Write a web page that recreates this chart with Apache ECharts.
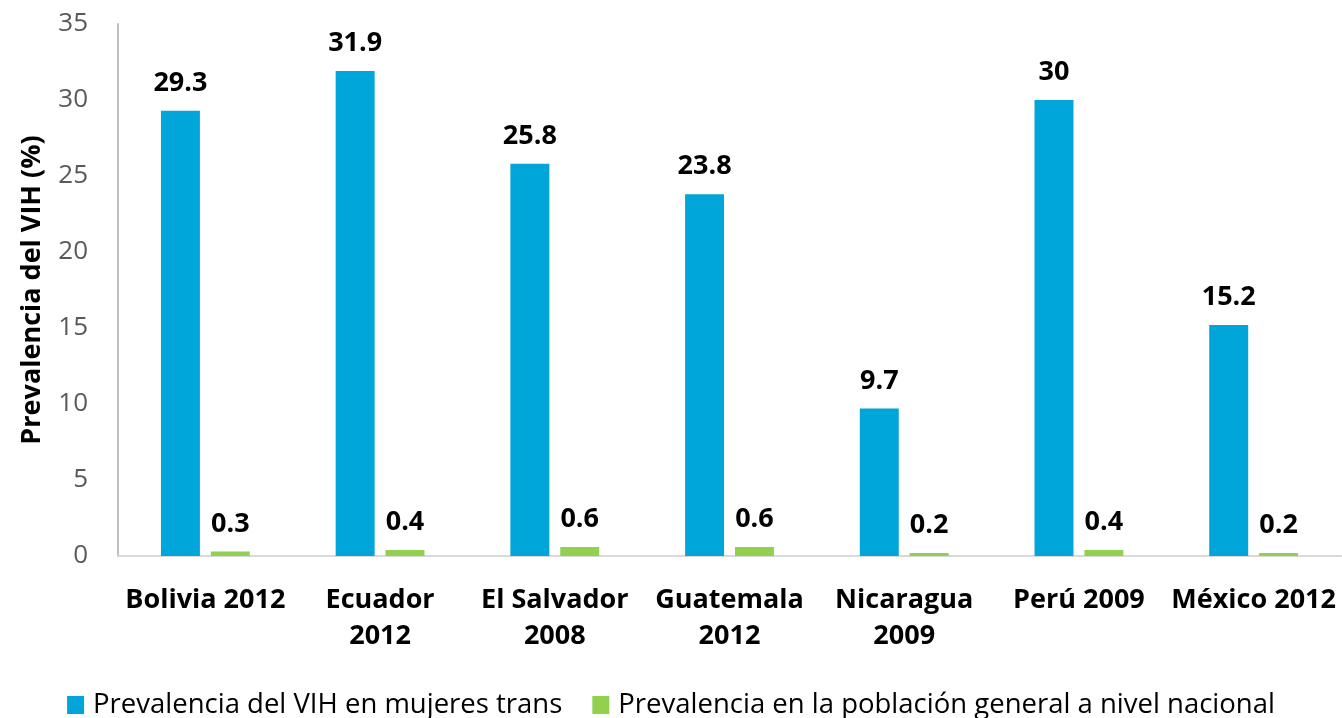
<!DOCTYPE html>
<html>
<head>
<meta charset="utf-8">
<script src="https://cdn.jsdelivr.net/npm/echarts@6/dist/echarts.min.js"></script>
<style>
	html, body { margin: 0; padding: 0; background: #fff; }
	#chart { width: 1342px; height: 718px; }
</style>
</head>
<body>
<div id="chart"></div>
<script>
let paises = ['Bolivia 2012', 'Ecuador\n2012', 'El Salvador\n2008', 'Guatemala\n2012', 'Nicaragua\n2009', 'Perú 2009', 'México 2012'];
let mujeresTrans = [29.3, 31.9, 25.8, 23.8, 9.7, 30, 15.2];
let poblacionGeneral = [0.3, 0.4, 0.6, 0.6, 0.2, 0.4, 0.2];
let nombresSerie = ['Prevalencia del VIH en mujeres trans', 'Prevalencia en la población general a nivel nacional'];

let fuente = 'Open Sans';
let etiqueta = {
	show: true,
	position: 'top',
	distance: 14,
	color: '#000',
	fontFamily: fuente,
	fontWeight: 'bold',
	fontSize: 27
};

var chart = echarts.init(document.getElementById('chart'));
option = {
	animation: false,
	textStyle: { fontFamily: fuente },
	grid: { left: 118, right: 1, top: 24, bottom: 162 },
	legend: {
		top: 686,
		left: 'center',
		itemWidth: 17,
		itemHeight: 18,
		itemGap: 30,
		icon: 'rect',
		textStyle: { fontFamily: fuente, fontSize: 27.5, color: '#000', padding: [0, 0, 0, 4] },
		data: nombresSerie
	},
	xAxis: {
		type: 'category',
		data: paises,
		axisLine: { lineStyle: { color: '#d9d9d9', width: 2 } },
		axisTick: { show: false },
		axisLabel: {
			interval: 0,
			margin: 26,
			lineHeight: 36,
			color: '#000',
			fontFamily: fuente,
			fontWeight: 'bold',
			fontSize: 27
		}
	},
	yAxis: {
		type: 'value',
		min: 0,
		max: 35,
		interval: 5,
		name: 'Prevalencia del VIH (%)',
		nameLocation: 'middle',
		nameGap: 72,
		nameTextStyle: { color: '#000', fontFamily: fuente, fontWeight: 'bold', fontSize: 27 },
		axisLine: { show: true, lineStyle: { color: '#bfbfbf', width: 2 } },
		axisTick: { show: false },
		splitLine: { show: false },
		axisLabel: { color: '#595959', fontFamily: fuente, fontSize: 26, margin: 30 }
	},
	series: [
		{
			name: nombresSerie[0],
			type: 'bar',
			data: mujeresTrans,
			barWidth: '22.3%',
			barGap: '28%',
			itemStyle: { color: '#00A6D9' },
			label: etiqueta
		},
		{
			name: nombresSerie[1],
			type: 'bar',
			data: poblacionGeneral,
			barWidth: '22.3%',
			itemStyle: { color: '#92D050' },
			label: etiqueta
		}
	]
};
chart.setOption(option);
</script>
</body>
</html>
